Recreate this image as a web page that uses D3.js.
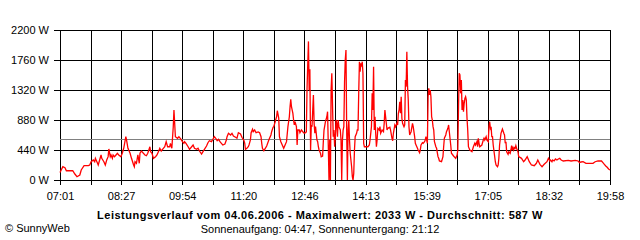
<!DOCTYPE html>
<html><head><meta charset="utf-8">
<script src="https://cdn.jsdelivr.net/npm/d3@7/dist/d3.min.js"></script>
<style>
body{margin:0;background:#fff}
svg{display:block}
text{font-family:"Liberation Sans",Arial,sans-serif;font-size:11px;fill:#000}
</style>
</head><body>
<svg id="chart" width="640" height="240"></svg>
<script>
// minutes after 07:01
const spanMinutes = 777;
const minutes = [
0,4,7,9,18,21,24,28,30,34, 40,42,44,47,49,50,53,54,56,58, 59,62,64,66,68,69,71,72,74,75,
77,80,81,83,86,88,90,93,94,96, 99,101,104,105,106,108,110,112,113,115, 120,122,124,127,128,130,132,135,137,139,
141,143,146,148,150,152,155,156,158,160, 161,162,163,166,168,171,173,175,176,178, 181,183,186,188,190,193,195,197,200,202,
204,207,209,211,214,216,218,220,222,224, 226,228,230,233,235,236,238,241,243,245, 248,250,252,255,257,260,261,262,264,266,
267,269,270,272,273,275,277,280,282,284, 285,286,288,290,292,295,296,298,299,301, 302,304,306,307,309,310,312,314,316,318,
320,322,324,325,326,327,329,330,331,332, 334,335,336,338,339,341,343,345,347,348, 349,351,352,353,354,355,356,358,359,360,
361,363,364,365,366,368,369,371,372,373, 375,377,378,379,380,381,382,383,384,386, 387,388,389,390,391,392,393,394,396,397,
398,399,400,401,402,403,404,405,406,407, 408,409,410,412,413,414,415,416,417,419, 420,421,422,423,424,425,426,427,428,429,
430,432,435,437,438,440,441,442,443,444, 445,446,447,448,449,451,452,453,455,457, 458,459,460,462,463,466,467,469,470,471,
473,474,476,477,478,479,480,481,482,483, 484,486,487,488,489,490,491,492,493,494, 495,496,498,499,501,502,503,505,506,508,
509,510,512,513,515,516,517,519,520,521, 522,523,524,525,526,527,528,529,531,532, 534,535,536,539,541,542,543,545,546,548,
549,550,552,553,556,559,561,562,563,564, 565,566,567,568,569,570,571,572,573,574, 575,576,577,579,582,584,586,587,589,590,
591,592,593,596,598,599,600,602,603,605, 606,607,608,609,610,611,612,614,615,616, 618,619,620,621,623,625,627,628,629,630,
631,633,634,636,637,638,639,640,641,642, 643,644,645,646,647,648,652,655,657,660, 663,666,670,673,675,678,681,684,688,690,
692,693,695,696,698,700,702,704,706,708, 711,718,722,728,732,734,736,739,743,753, 756,760,765,767,769,771,773,775,777
];
const watts = [
110,195,180,136,136,88,48,73,147,210, 210,220,268,293,268,318,245,220,293,367, 318,268,220,293,342,455,342,367,318,367,
342,377,392,367,342,392,465,635,587,465, 392,318,220,195,268,245,367,245,392,425, 367,356,392,488,415,392,318,342,367,415,
465,425,465,488,562,488,488,538,465,782, 1027,832,635,612,635,597,562,538,562,538, 488,450,488,513,465,450,465,425,381,415,
450,499,547,576,562,597,635,612,576,597, 562,538,513,528,587,635,685,660,685,645, 626,612,694,675,626,576,538,450,465,488,
513,587,694,744,708,733,694,704,694,635, 538,465,430,465,499,587,612,660,708,773, 782,855,928,1016,909,635,562,513,465,513,
562,782,928,1075,1184,1075,978,880,807,855, 782,513,733,733,694,733,708,685,694,708, 1345,2033,1320,1624,440,807,782,1247,832,685,
782,587,562,488,440,392,342,352,562,733, 855,928,1002,513,0,587,0,1320,1565,635, 733,488,635,880,832,635,880,782,733,587,
0,587,733,782,1442,1760,1907,733,0,733, 880,587,392,195,48,0,98,440,635,685, 733,733,1271,1735,1588,1711,1662,1735,1565,538,
488,488,488,513,587,782,1271,1027,1662,733, 928,685,488,587,758,733,782,685,733,708, 832,1027,928,733,758,773,733,612,576,685,
807,782,832,807,978,1027,1148,978,1222,905, 832,782,807,1467,1369,1882,1369,1173,782,660, 685,708,832,782,635,538,513,465,440,401,
440,513,547,538,562,587,635,538,1222,1345, 1247,1320,1222,928,880,782,733,562,488,465, 342,318,279,268,342,488,612,660,708,758,
807,708,513,392,352,318,367,440,1075,1565, 1540,1271,1467,1027,1173,1002,1125,1198,1222,1173, 905,733,488,440,415,488,538,513,562,488,
612,538,488,513,587,612,587,635,587,562, 782,855,758,782,635,635,513,352,268,220, 195,220,318,513,685,748,685,660,538,562,
415,377,415,392,440,503,440,474,440,474, 465,503,465,440,415,342,318,268,293,342, 268,220,210,245,293,230,195,230,268,318,
279,293,268,293,279,308,293,308,318,293, 279,289,279,289,279,254,264,268,245,245, 268,279,279,254,230,205,186,161,147
];
const yTicks = [0,440,880,1320,1760,2200];
const xTickLabels = ["07:01","08:27","09:54","11:20","12:46","14:13","15:39","17:05","18:32","19:58"];
const gridColumns = 18;
const average = 587;
const title = "Leistungsverlauf vom 04.06.2006 - Maximalwert: 2033 W - Durchschnitt: 587 W";
const subtitle = "Sonnenaufgang: 04:47, Sonnenuntergang: 21:12";
const credit = "\u00A9 SunnyWeb";

(function(){
const data = minutes.map((m,i)=>({m, w: watts[i]}));
const svg = d3.select("#chart");
const pL=60, pR=610, pT=30, pB=180;
const x = d3.scaleLinear().domain([0, spanMinutes]).range([pL, pR]);
const y = d3.scaleLinear().domain([0, 2200]).range([pB, pT]);

svg.append("rect").attr("width",640).attr("height",240).attr("fill","#fff");

// vertical grid + bottom ticks
const xTickVals = d3.range(gridColumns+1).map(i => i*spanMinutes/gridColumns);
const xa = d3.axisBottom(x).tickValues(xTickVals).tickSizeInner(-(pB+5-pT)).tickSizeOuter(0).tickPadding(7)
  .tickFormat((d,i) => i%2===0 ? xTickLabels[i/2] : "");
const gx = svg.append("g").attr("transform",`translate(0,${pB+5})`).call(xa);
gx.select(".domain").remove();
gx.selectAll("line").attr("stroke","#000").attr("shape-rendering","crispEdges");

// horizontal grid + left ticks
const ya = d3.axisLeft(y).tickValues(yTicks).tickSizeInner(-(pR-(pL-6))).tickSizeOuter(0).tickPadding(5)
  .tickFormat(d => d + " W");
const gy = svg.append("g").attr("transform",`translate(${pL-6},0)`).call(ya);
gy.select(".domain").remove();
gy.selectAll("line").attr("stroke","#000").attr("shape-rendering","crispEdges");
gx.attr("font-family",null).attr("font-size",null);
gy.attr("font-family",null).attr("font-size",null);

// average line
svg.append("line").attr("x1",x(0)).attr("x2",x(spanMinutes))
  .attr("y1",y(average)).attr("y2",y(average))
  .attr("stroke","#808080").attr("stroke-width",1).attr("shape-rendering","crispEdges");

// power line
svg.append("path").datum(data)
  .attr("d", d3.line().x(d=>x(d.m)).y(d=>y(d.w)))
  .attr("fill","none").attr("stroke","#ff0000").attr("stroke-width",1.3)
  .attr("stroke-linejoin","miter");

svg.append("text").attr("x",320).attr("y",218.5).attr("text-anchor","middle")
  .attr("font-weight","bold").attr("letter-spacing","0.5px").text(title);
svg.append("text").attr("x",320).attr("y",233).attr("text-anchor","middle").text(subtitle);
svg.append("text").attr("x",5).attr("y",232).text(credit);
})();
</script>
</body></html>
